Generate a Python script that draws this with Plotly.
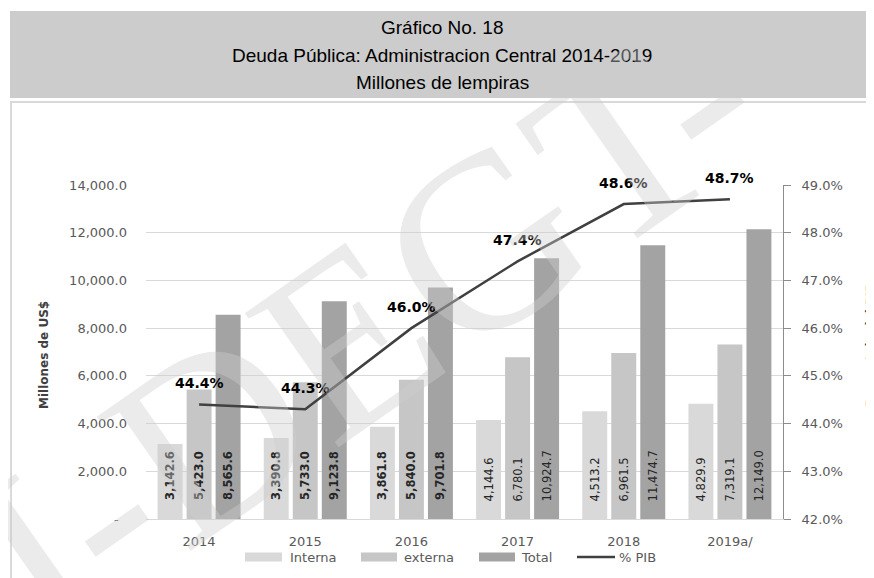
import plotly.graph_objects as go

# ---------------- data ----------------
years = ["2014", "2015", "2016", "2017", "2018", "2019a/"]
interna = [3142.6, 3390.8, 3861.8, 4144.6, 4513.2, 4829.9]
externa = [5423.0, 5733.0, 5840.0, 6780.1, 6961.5, 7319.1]
total = [8565.6, 9123.8, 9701.8, 10924.7, 11474.7, 12149.0]
pib = [44.4, 44.3, 46.0, 47.4, 48.6, 48.7]
series_names = ["Interna", "externa", "Total", "% PIB"]
left_ticks = [0, 2000, 4000, 6000, 8000, 10000, 12000, 14000]
right_ticks = [42, 43, 44, 45, 46, 47, 48, 49]
title_lines = ["Gráfico No. 18",
               "Deuda Pública: Administracion Central 2014-2019",
               "Millones de lempiras"]
left_title = "Millones de US$"
right_title = "Porcentaje del PIB"
watermark = "I-DEGT-"

# ---------------- style ----------------
OFF = 8                      # page body margin
W, H = 874 - OFF, 578 - OFF
PL, PR, PT, PB = 146, 783, 185, 519   # plot area in screen pixels
L, R, T, B = PL - OFF, 874 - PR, PT - OFF, 578 - PB
PW, PH = PR - PL, PB - PT
colors = ["#d9d9d9", "#c6c6c6", "#a3a3a3"]
line_color = "#404040"
tick_color = "#595959"
FONT = "DejaVu Sans"
NB = "\u00a0"


def px(x):
    return (x - PL) / PW


def py(y):
    return (PB - y) / PH


def bar_text(vals):
    out = []
    for i, v in enumerate(vals):
        s = NB * 4 + f"{v:,.1f}"
        out.append(f"<b>{s}</b>" if i < 3 else s)
    return out


fig = go.Figure()
for name, vals, col in zip(series_names[:3], [interna, externa, total], colors):
    fig.add_trace(go.Bar(
        x=years, y=vals, name=name, marker=dict(color=col, line=dict(width=0)),
        text=bar_text(vals), textposition="inside", insidetextanchor="start",
        textangle=-90, constraintext="none",
        textfont=dict(family=FONT, size=11.5, color="#262626"),
        showlegend=False, hoverinfo="skip"))

fig.add_trace(go.Scatter(
    x=years, y=pib, name=series_names[3], yaxis="y2", mode="lines",
    line=dict(color=line_color, width=2.5), showlegend=False, hoverinfo="skip"))

annotations = []
# line labels (x given as category index)
for i, v in enumerate(pib):
    annotations.append(dict(x=i, y=v, xref="x", yref="y2", text=f"<b>{v:.1f}%</b>",
                            showarrow=False, yshift=21, xanchor="center",
                            yanchor="middle",
                            font=dict(family=FONT, size=14, color="#000000")))

# title lines
for txt, yy in zip(title_lines, [28, 56, 83]):
    annotations.append(dict(x=px(442), y=py(yy), xref="paper", yref="paper", text=txt,
                            showarrow=False, xanchor="center", yanchor="middle",
                            font=dict(family="Liberation Sans Narrow, Arial Narrow, sans-serif",
                                      size=19, color="#000000")))

# axis titles
annotations.append(dict(x=px(44), y=py(355), xref="paper", yref="paper",
                        text=f"<b>{left_title}</b>", textangle=-90, showarrow=False,
                        xanchor="center", yanchor="middle",
                        font=dict(family=FONT, size=12, color="#404040")))
annotations.append(dict(x=px(871), y=py(345), xref="paper", yref="paper",
                        text=f"<b>{right_title}</b>", textangle=-90, showarrow=False,
                        xanchor="center", yanchor="middle",
                        font=dict(family=FONT, size=12, color="#404040")))

# custom legend
shapes = []
leg_y = 557
sw = [(245, 282, 288), (361, 397, 402), (479, 515, 519)]
for (x0, x1, tx), col, name in zip(sw, colors, series_names[:3]):
    shapes.append(dict(type="rect", xref="paper", yref="paper", x0=px(x0), x1=px(x1),
                       y0=py(leg_y + 4.5), y1=py(leg_y - 4.5), fillcolor=col,
                       line=dict(width=0)))
    annotations.append(dict(x=px(tx), y=py(leg_y), xref="paper", yref="paper", text=name,
                            showarrow=False, xanchor="left", yanchor="middle",
                            font=dict(family=FONT, size=13, color=tick_color)))
shapes.append(dict(type="line", xref="paper", yref="paper", x0=px(577), x1=px(615),
                   y0=py(leg_y), y1=py(leg_y), line=dict(color=line_color, width=2.5)))
annotations.append(dict(x=px(617), y=py(leg_y), xref="paper", yref="paper",
                        text=series_names[3], showarrow=False, xanchor="left",
                        yanchor="middle", font=dict(family=FONT, size=13, color=tick_color)))

# header band and chart border
shapes.insert(0, dict(type="rect", xref="paper", yref="paper", x0=px(10), x1=px(890),
                      y0=py(98), y1=py(11), fillcolor="#cccccc", line=dict(width=0),
                      layer="below"))
shapes.insert(1, dict(type="rect", xref="paper", yref="paper", x0=px(11), x1=px(890),
                      y0=py(620), y1=py(102), fillcolor="rgba(0,0,0,0)",
                      line=dict(color="#d9d9d9", width=2), layer="below"))

# watermark
annotations.append(dict(x=px(365), y=py(325), xref="paper", yref="paper", text=watermark,
                        showarrow=False, textangle=-35, xanchor="center", yanchor="middle",
                        font=dict(family="Liberation Serif", size=250,
                                  color="rgba(205,205,205,0.4)")))

fig.update_layout(
    width=W, height=H, margin=dict(l=L, r=R, t=T, b=B, autoexpand=False),
    paper_bgcolor="white", plot_bgcolor="rgba(0,0,0,0)",
    barmode="group", bargap=0.18, bargroupgap=0.14,
    uniformtext=dict(mode="show", minsize=11.5),
    showlegend=False,
    xaxis=dict(type="category", categoryorder="array", categoryarray=years,
               range=[-0.5, len(years) - 0.5], showgrid=False, showline=True,
               linecolor="#d9d9d9", linewidth=1, ticks="",
               tickfont=dict(family=FONT, size=13, color=tick_color),
               ticklabelstandoff=10),
    yaxis=dict(range=[0, 14000], tickvals=left_ticks,
               ticktext=[("-" + NB * 2) if v == 0 else f"{v:,.1f}" for v in left_ticks],
               showgrid=True, gridcolor="#d9d9d9", gridwidth=1, zeroline=False,
               showline=False, ticks="", ticklabelstandoff=18,
               tickfont=dict(family=FONT, size=13, color=tick_color)),
    yaxis2=dict(range=[42, 49], tickvals=right_ticks,
                ticktext=[f"{v:.1f}%" for v in right_ticks], overlaying="y", side="right",
                showgrid=False, zeroline=False, showline=True, linecolor="#8c8c8c",
                linewidth=1, ticks="outside", ticklen=7, tickcolor="#8c8c8c",
                ticklabelstandoff=8,
                tickfont=dict(family=FONT, size=13, color=tick_color)),
    annotations=annotations, shapes=shapes,
)

fig.write_html("out.html")
